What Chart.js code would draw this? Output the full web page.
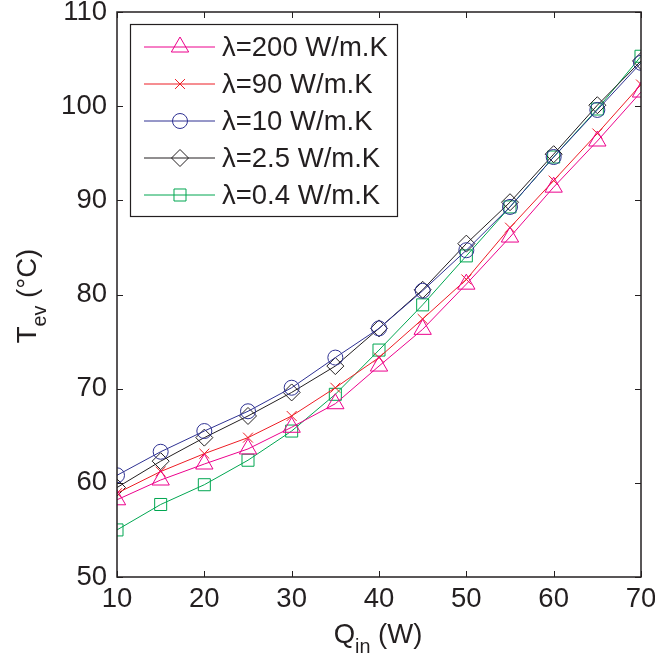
<!DOCTYPE html>
<html>
<head>
<meta charset="utf-8">
<script src="https://cdn.jsdelivr.net/npm/chart.js@4"></script>
<style>
body { margin: 0; background: #fff; }
</style>
</head>
<body>
<canvas id="chart" width="655" height="660"></canvas>
<script>
var qin = [10, 15, 20, 25, 30, 35, 40, 45, 50, 55, 60, 65, 70]
var t200 = [58.2, 60.3, 62.0, 63.6, 65.9, 68.4, 72.4, 76.3, 81.1, 86.1, 91.4, 96.3, 101.5]
var t90 = [58.9, 61.2, 63.1, 64.8, 67.1, 70.1, 73.3, 77.4, 81.6, 87.1, 92.1, 97.1, 102.3]
var t10 = [60.8, 63.3, 65.5, 67.6, 70.1, 73.3, 76.4, 80.4, 84.7, 89.3, 94.6, 99.6, 104.6]
var t2p5 = [59.5, 62.3, 64.8, 67.1, 69.6, 72.4, 76.4, 80.5, 85.4, 89.8, 94.9, 100.1, 104.8]
var t0p4 = [55.0, 57.7, 59.8, 62.4, 65.5, 69.4, 74.1, 78.9, 84.1, 89.3, 94.6, 99.7, 105.3]
var seriesLabels = ['λ=200 W/m.K', 'λ=90 W/m.K', 'λ=10 W/m.K', 'λ=2.5 W/m.K', 'λ=0.4 W/m.K']
var xTicks = [10, 20, 30, 40, 50, 60, 70]
var yTicks = [50, 60, 70, 80, 90, 100, 110]

var ink = '#231f20'
var fam = '"Liberation Sans", Arial, Helvetica, sans-serif'
var fs = 27.5

var colors = ['#ec008c', '#ed1c24', '#2e3192', '#231f20', '#00a651']
var styles = ['triangle', 'crossRot', 'circle', 'rectRot', 'rect']
var radii = [10, 7, 7.5, 8.5, 8.5]
var allSeries = [t200, t90, t10, t2p5, t0p4]

function pairs(ys) {
    return qin.map((x, i) => ({x: x, y: ys[i]}))
}

var datasets = allSeries.map(function(s, i) {
    return {
        label: seriesLabels[i],
        data: pairs(s),
        borderColor: colors[i],
        borderWidth: 1,
        pointStyle: styles[i],
        pointRadius: radii[i],
        pointBorderColor: colors[i],
        pointBackgroundColor: 'rgba(0,0,0,0)',
        pointBorderWidth: 1,
        tension: 0
    }
})

// text with subscripts, centered at x
function subText(ctx, parts, x, y) {
    var w = 0
    parts.forEach(function(p) {
        ctx.font = (p[1] ? fs * 0.72 : fs) + 'px ' + fam
        w += ctx.measureText(p[0]).width
    })
    var cx = x - w / 2
    parts.forEach(function(p) {
        ctx.font = (p[1] ? fs * 0.72 : fs) + 'px ' + fam
        ctx.fillText(p[0], cx, p[1] ? y + fs * 0.36 : y)
        cx += ctx.measureText(p[0]).width
    })
}

var framePlugin = {
    id: 'frame',
    afterDatasetsDraw(chart) {
        var ctx = chart.ctx
        var a = chart.chartArea
        var xs = chart.scales.x, ys = chart.scales.y
        ctx.save()
        ctx.strokeStyle = ink
        ctx.lineWidth = 1.5
        ctx.strokeRect(a.left, a.top, a.right - a.left, a.bottom - a.top)
        ctx.lineWidth = 1
        ctx.beginPath()
        xTicks.forEach(function(v) {
            var px = Math.round(xs.getPixelForValue(v)) + 0.5
            ctx.moveTo(px, a.bottom); ctx.lineTo(px, a.bottom - 6)
            ctx.moveTo(px, a.top); ctx.lineTo(px, a.top + 6)
        })
        yTicks.forEach(function(v) {
            var py = Math.round(ys.getPixelForValue(v)) + 0.5
            ctx.moveTo(a.left, py); ctx.lineTo(a.left + 6, py)
            ctx.moveTo(a.right, py); ctx.lineTo(a.right - 6, py)
        })
        ctx.stroke()

        // legend box
        var bx = 130, by = 24, bw = 267, bh = 192
        ctx.fillStyle = '#fff'
        ctx.fillRect(bx, by, bw, bh)
        ctx.strokeStyle = ink
        ctx.lineWidth = 1.2
        ctx.strokeRect(bx + 0.5, by + 0.5, bw, bh)
        chart.data.datasets.forEach(function(ds, i) {
            var ry = 47 + i * 37
            ctx.strokeStyle = ds.borderColor
            ctx.lineWidth = 1
            ctx.beginPath()
            ctx.moveTo(144, ry); ctx.lineTo(215, ry)
            ctx.stroke()
            ctx.fillStyle = 'rgba(0,0,0,0)'
            Chart.helpers.drawPoint(ctx, {pointStyle: ds.pointStyle, radius: ds.pointRadius, borderWidth: 1}, 180, ry)
            ctx.fillStyle = ink
            ctx.font = fs + 'px ' + fam
            ctx.textAlign = 'left'
            ctx.textBaseline = 'middle'
            ctx.fillText(ds.label, 222, ry + 1)
        })

        // axis titles
        ctx.fillStyle = ink
        ctx.textAlign = 'left'
        ctx.textBaseline = 'alphabetic'
        subText(ctx, [['Q', false], ['in', true], [' (W)', false]], 378, 643)
        ctx.translate(36, 296)
        ctx.rotate(-Math.PI / 2)
        subText(ctx, [['T', false], ['ev', true], [' (°C)', false]], 0, 0)
        ctx.restore()
    }
}

var ctx = document.getElementById('chart').getContext('2d')
var chart = new Chart(ctx, {
    type: 'line',
    data: { datasets: datasets },
    options: {
        responsive: false,
        animation: false,
        layout: { padding: { top: 12, right: 14, left: 0, bottom: 0 } },
        plugins: {
            legend: { display: false },
            tooltip: { enabled: false }
        },
        scales: {
            x: {
                type: 'linear',
                min: 10, max: 70,
                afterFit: s => { s.height = 83; s.paddingLeft = 0; s.paddingRight = 0 },
                afterBuildTicks: s => { s.ticks = xTicks.map(v => ({value: v})) },
                grid: { display: false, drawTicks: false },
                border: { display: false },
                ticks: { color: ink, font: { family: fam, size: fs }, padding: 6, maxRotation: 0 }
            },
            y: {
                min: 50, max: 110,
                afterFit: s => { s.width = 117; s.paddingTop = 0; s.paddingBottom = 0 },
                afterBuildTicks: s => { s.ticks = yTicks.map(v => ({value: v})) },
                grid: { display: false, drawTicks: false },
                border: { display: false },
                ticks: { color: ink, font: { family: fam, size: fs }, padding: 10 }
            }
        }
    },
    plugins: [framePlugin]
})
</script>
</body>
</html>
